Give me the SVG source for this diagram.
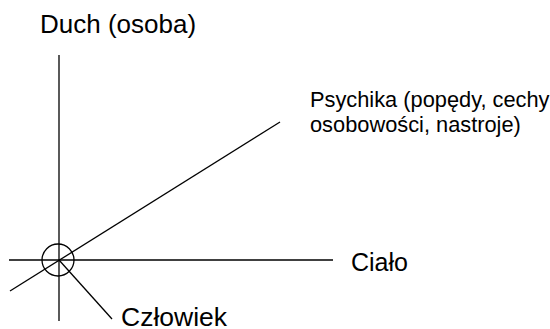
<svg xmlns="http://www.w3.org/2000/svg" width="550" height="329" viewBox="0 0 550 329">
<style>
.ln{stroke:#000;stroke-width:1.3;fill:none}
.t{font-family:"Liberation Sans",Arial,sans-serif;fill:#000}
</style>
<rect width="550" height="329" fill="#fff"/>
<g id="connectors">
<line class="ln" x1="59" y1="55" x2="59" y2="321" stroke="#333"/>
<line class="ln" x1="9" y1="260" x2="333" y2="260"/>
<line class="ln" x1="10" y1="291" x2="280" y2="122"/>
<line class="ln" x1="59" y1="260" x2="112" y2="319"/>
</g>
<g id="czlowiek-circle"><circle class="ln" cx="58" cy="260" r="16"/></g>
<g id="duch"><text class="t" x="40" y="33" font-size="26">Duch (osoba)</text></g>
<g id="psychika"><text class="t" x="310" y="107" font-size="21.8">Psychika (popędy, cechy</text><text class="t" x="310" y="132" font-size="21.8">osobowości, nastroje)</text></g>
<g id="cialo"><text class="t" x="351" y="271" font-size="25">Ciało</text></g>
<g id="czlowiek"><text class="t" x="121" y="326" font-size="26.5">Człowiek</text></g>
</svg>
